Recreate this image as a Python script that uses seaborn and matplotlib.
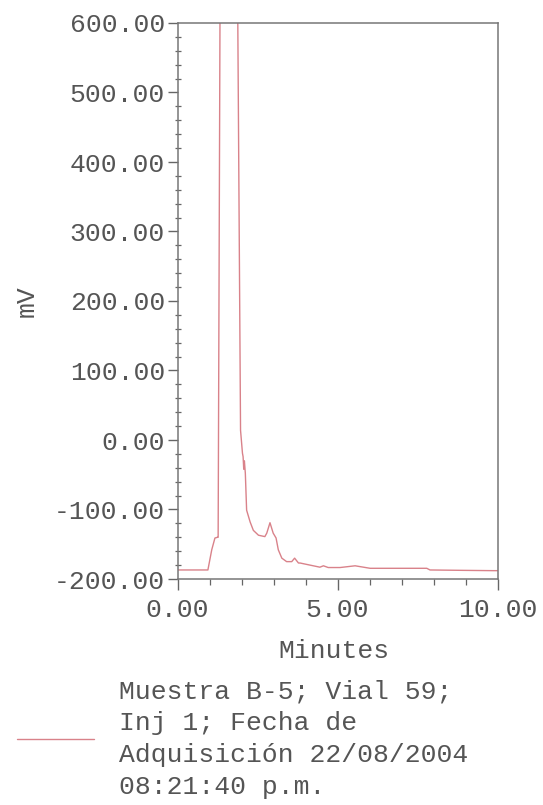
import matplotlib
matplotlib.use("Agg")
import matplotlib.pyplot as plt
from matplotlib.ticker import MultipleLocator, FormatStrFormatter
import numpy as np
import pandas as pd
import seaborn as sns

# Chromatogram trace: retention time (min) vs detector signal (mV)
minutes = [0.00, 0.50, 0.95, 1.07, 1.17, 1.25, 1.27, 1.335, 1.60, 1.87, 1.97,
           2.03, 2.05, 2.07, 2.09, 2.12, 2.16, 2.27, 2.37, 2.53, 2.73, 2.79,
           2.89, 2.99, 3.08, 3.15, 3.26, 3.41, 3.57, 3.66, 3.78, 3.83, 4.14,
           4.45, 4.56, 4.71, 5.08, 5.55, 6.02, 7.00, 7.79, 7.89, 8.80, 9.87, 10.00]
signal_mv = [-187, -187, -187, -158, -141, -140, -140, 700, 1800, 700, 14,
             -19, -24, -42, -30, -48, -101, -118, -130, -137, -139, -134,
             -119, -134, -141, -158, -170, -175, -175, -170, -177, -177, -180,
             -183, -181, -183.5, -183.5, -181, -184.6, -184.6, -184.6, -187, -187.5, -188, -188]

sample_label = ("Muestra B-5; Vial 59;\nInj 1; Fecha de\n"
                "Adquisición 22/08/2004\n08:21:40 p.m.")

x_limits = (0, 10)
y_limits = (-200, 600)

sns.set_theme(style="white")
mono = ["Liberation Mono", "DejaVu Sans Mono"]
plt.rcParams["font.family"] = mono
ink = "#555555"
plt.rcParams.update({
    "text.color": ink,
    "axes.labelcolor": ink,
    "xtick.color": "#666666",
    "ytick.color": "#666666",
    "axes.edgecolor": "#777777",
})

df = pd.DataFrame({"Minutes": minutes, "mV": signal_mv})

fig = plt.figure(figsize=(5.43, 8.05), dpi=100)
ax = fig.add_axes([177.5 / 543, 1 - 579 / 805, 320 / 543, 556 / 805])

sns.lineplot(data=df, x="Minutes", y="mV", ax=ax, color="#d9828a",
             linewidth=1.0, sort=False, label=sample_label, legend=False)

ax.set_xlim(*x_limits)
ax.set_ylim(*y_limits)

for side in ["left", "right", "top", "bottom"]:
    ax.spines[side].set_visible(True)
    ax.spines[side].set_linewidth(1.1)

fs = 19
ax.xaxis.set_major_locator(MultipleLocator(5))
ax.xaxis.set_minor_locator(MultipleLocator(1))
ax.yaxis.set_major_locator(MultipleLocator(100))
ax.yaxis.set_minor_locator(MultipleLocator(20))
ax.xaxis.set_major_formatter(FormatStrFormatter("%.2f"))
ax.yaxis.set_major_formatter(FormatStrFormatter("%.2f"))

ax.tick_params(axis="y", which="major", direction="out", length=7, width=1,
               pad=2, labelsize=fs, left=True, right=False, labelcolor=ink)
ax.tick_params(axis="y", which="minor", direction="inout", length=5, width=0.9,
               left=True, right=False)
ax.tick_params(axis="x", which="major", direction="out", length=8, width=1,
               pad=6, labelsize=fs, bottom=True, top=False, labelcolor=ink)
ax.tick_params(axis="x", which="minor", direction="out", length=4, width=0.9,
               bottom=True, top=False)

ax.set_xlabel("Minutes", fontsize=fs, va="top")
ax.xaxis.set_label_coords(0.49, -0.108)
ax.set_ylabel("mV", fontsize=fs)
ax.yaxis.set_label_coords(-0.435, 0.5)

handles, labels = ax.get_legend_handles_labels()
leg = fig.legend(handles, labels, loc="center left",
                 bbox_to_anchor=(17 / 543, 1 - 739 / 805),
                 frameon=False, fontsize=fs, handlelength=2.9,
                 handletextpad=0.95, borderpad=0, borderaxespad=0)
for t in leg.get_texts():
    t.set_linespacing(1.42)

fig.savefig("out.png", dpi=100)
